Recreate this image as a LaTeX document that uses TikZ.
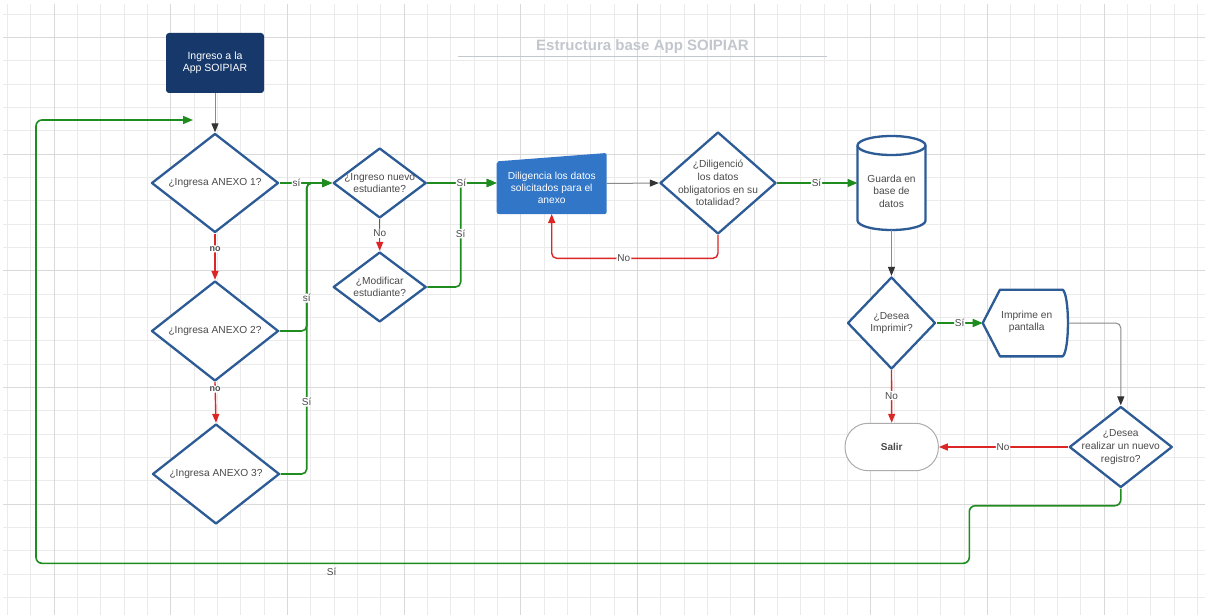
\documentclass[tikz,border=0pt]{standalone}
\usepackage{fontspec}
\setmainfont{Liberation Sans}
\usetikzlibrary{arrows.meta,shapes.geometric,calc}

\definecolor{navy}{HTML}{17386A}
\definecolor{boxblue}{HTML}{3276C8}
\definecolor{dblue}{HTML}{2C5B95}
\definecolor{fgreen}{HTML}{1F8C1F}
\definecolor{fred}{HTML}{DC2626}
\definecolor{cgray}{HTML}{8A8A8A}
\definecolor{tipgray}{HTML}{333333}
\definecolor{tgray}{HTML}{4A4A4A}
\definecolor{gridminor}{HTML}{EBEBEB}
\definecolor{gridmajor}{HTML}{D9D9D9}
\definecolor{titlegray}{HTML}{C2C6CD}

\tikzset{
  decision/.style={diamond, draw=dblue, line width=2.3pt, fill=white, inner sep=0pt, line join=round},
  qtext/.style={text=tgray, align=center, font=\fontsize{10.2}{12.6}\selectfont},
  yesline/.style={draw=fgreen, line width=1.6pt, rounded corners=5pt, -{Triangle[length=10pt,width=8pt]}},
  noline/.style={draw=fred, line width=1.4pt, rounded corners=5pt, -{Triangle[length=9pt,width=7pt]}},
  plainline/.style={draw=cgray, line width=1pt, rounded corners=5pt, -{Triangle[length=9pt,width=7pt,color=tipgray]}},
  lbl/.style={fill=white, text=tgray, inner sep=1pt, font=\fontsize{10}{12}\selectfont},
  smalllbl/.style={fill=white, text=tgray, inner sep=1pt, font=\bfseries\fontsize{9}{10}\selectfont},
  ghost/.style={inner sep=0pt, outer sep=0pt},
  shapeline/.style={draw=dblue, line width=2.3pt, fill=white, line join=round}
}

\begin{document}
\begin{tikzpicture}[x=1pt,y=-1pt]
\useasboundingbox (0,0) rectangle (1205,615);
\fill[white] (0,0) rectangle (1205,615);

% grid
\foreach \i in {0,...,51} {
  \pgfmathsetmacro\xx{7.333+23.333*\i}
  \draw[gridminor, line width=0.8pt] (\xx,4) -- (\xx,615);
}
\foreach \j in {0,...,25} {
  \pgfmathsetmacro\yy{14+23.333*\j}
  \draw[gridminor, line width=0.8pt] (3,\yy) -- (1205,\yy);
}
\foreach \i in {2,7,...,47} {
  \pgfmathsetmacro\xx{7.333+23.333*\i}
  \draw[gridmajor, line width=0.8pt] (\xx,4) -- (\xx,615);
}
\foreach \j in {1,6,...,21} {
  \pgfmathsetmacro\yy{14+23.333*\j}
  \draw[gridmajor, line width=0.8pt] (3,\yy) -- (1205,\yy);
}

% title
\node[text=titlegray, font=\bfseries\fontsize{15}{17}\selectfont] (title) at (642.5,46.5) {Estructura base App SOIPIAR};
\coordinate (ulA) at (458,56.7);
\coordinate (ulB) at (827,56.7);
\draw[titlegray, line width=1.5pt] (ulA) -- (ulB);

% start
\node[fill=navy, rounded corners=3pt, minimum width=98pt, minimum height=60pt, text=white, align=center, font=\fontsize{10.5}{12.4}\selectfont] (start) at (215,63) {Ingreso a la\\App SOIPIAR};

% decisions
\node[decision, minimum width=127pt, minimum height=99pt, label={[qtext]center:{¿Ingresa ANEXO 1?}}] (d1) at (215,183) {};
\node[decision, minimum width=127pt, minimum height=100pt, label={[qtext]center:{¿Ingresa ANEXO 2?}}] (d2) at (215,331) {};
\node[decision, minimum width=127pt, minimum height=100pt, label={[qtext]center:{¿Ingresa ANEXO 3?}}] (d3) at (216,474) {};
\node[decision, minimum width=93pt, minimum height=70pt, label={[qtext]center:{¿Ingreso nuevo\\estudiante?}}] (nuevo) at (379.7,183) {};
\node[decision, minimum width=93pt, minimum height=70pt, label={[qtext]center:{¿Modificar\\estudiante?}}] (modif) at (379.7,287) {};
\node[decision, minimum width=116pt, minimum height=102pt, label={[qtext]center:{¿Diligenció\\los datos\\obligatorios en su\\totalidad?}}] (dilq) at (718,183) {};
\node[decision, minimum width=88pt, minimum height=92pt, label={[qtext]center:{¿Desea\\Imprimir?}}] (imp) at (891.5,323) {};
\node[decision, minimum width=103pt, minimum height=81pt, label={[qtext]center:{¿Desea\\realizar un nuevo\\registro?}}] (real) at (1120.8,447) {};

% manual input box
\node[ghost, minimum width=110pt, minimum height=61pt] (dil) at (551.7,183.5) {};
\fill[boxblue, rounded corners=2pt] (dil.south west) -- (dil.south east) -- (dil.north east) -- ($(dil.north west)+(0,8.4)$) -- cycle;
\node[text=white, align=center, font=\fontsize{10.2}{12.3}\selectfont] (diltext) at (551.7,188) {Diligencia los datos\\solicitados para el\\anexo};

% database cylinder
\node[ghost, minimum width=68pt, minimum height=94pt] (cyl) at (891.5,183) {};
\draw[shapeline] ($(cyl.north west)+(0,9.5)$) -- ($(cyl.south west)+(0,-9.5)$)
  arc[start angle=180, end angle=360, x radius=34pt, y radius=9.5pt]
  -- ($(cyl.north east)+(0,9.5)$)
  arc[start angle=0, end angle=180, x radius=34pt, y radius=9.5pt] -- cycle;
\draw[shapeline, fill=none] ($(cyl.north west)+(0,9.5)$) arc[start angle=180, end angle=360, x radius=34pt, y radius=9.5pt];
\node[qtext] (cyltext) at (891.5,191) {Guarda en\\base de\\datos};

% display shape
\node[ghost, minimum width=86pt, minimum height=66.7pt] (pant) at (1025.7,323) {};
\draw[shapeline] ($(pant.north west)+(17.3,0)$) -- ($(pant.north east)+(-6,0)$)
  .. controls ($(pant.north east)+(1,6)$) and ($(pant.south east)+(1,-6)$) .. ($(pant.south east)+(-6,0)$)
  -- ($(pant.south west)+(17.3,0)$) -- (pant.west) -- cycle;
\node[qtext] (panttext) at (1026.7,321.7) {Imprime en\\pantalla};

% exit
\node[draw=gray!65, line width=1pt, fill=white, rounded corners=23pt, minimum width=93.3pt, minimum height=47.4pt, text=tgray, font=\bfseries\fontsize{10}{12}\selectfont] (salir) at (891.7,447) {Salir};

% connectors
\draw[plainline] (start.south) -- (d1.north);

\coordinate (loopend) at (193,120);
\coordinate (lp1) at (969.3,505.7);
\coordinate (lp2) at (36,563.3);
\draw[yesline, rounded corners=6pt] (real.south) |- (lp1) |- (lp2) |- (loopend);
\node[lbl, fill=none] (loopsi) at (331.7,572) {Sí};

\draw[noline] (d1.south) -- node[smalllbl, pos=0.33] {no} (d2.north);
\draw[noline] (d2.south) -- node[smalllbl, pos=0.17] {no} (d3.north);

\coordinate (jA) at (306.7,183);
\draw[yesline] (d3.east) -| node[lbl, pos=0.624] {Sí} (jA) -- (nuevo.west);
\draw[yesline] (d2.east) -| node[lbl, pos=0.611] {sí} (jA) -- (nuevo.west);
\draw[yesline] (d1.east) -- node[lbl, pos=0.32] {sí} (nuevo.west);

\draw[noline] (nuevo.south) -- node[lbl, pos=0.45] {No} (modif.north);

\coordinate (jB) at (460.7,183);
\draw[yesline] (modif.east) -| node[lbl, pos=0.757] {Sí} (jB) -- (nuevo.east -| dil.west);
\draw[yesline] (nuevo.east) -- node[lbl, pos=0.49] {Sí} (nuevo.east -| dil.west);

\draw[plainline] (dil.east) -- (dilq.west);

\coordinate (nb) at (718,258.3);
\draw[noline] (dilq.south) -- (nb) -| node[lbl, pos=0.283] {No} (dil.south);

\draw[yesline] (dilq.east) -- node[lbl, pos=0.49] {Sí} (cyl.west);
\draw[plainline] (cyl.south) -- (imp.north);
\draw[yesline] (imp.east) -- node[lbl, pos=0.5] {Sí} (pant.west);
\draw[plainline] (pant.east) -| (real.north);
\draw[noline] (imp.south) -- node[lbl, pos=0.485] {No} (salir.north);
\draw[noline] (real.west) -- node[lbl, pos=0.504] {No} (salir.east);
\end{tikzpicture}
\end{document}
